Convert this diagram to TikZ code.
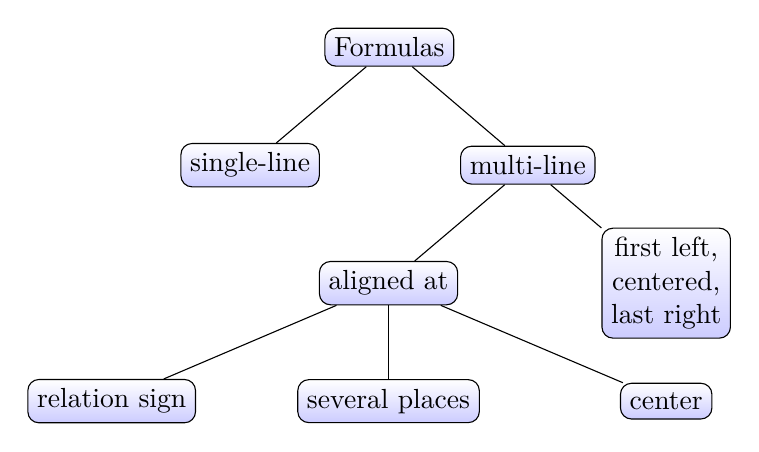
\documentclass[tikz,border=0pt]{standalone}
\usepackage{tikz}
\usetikzlibrary{positioning}
\tikzset{
  % Shaded tree node
  tnode/.style={rectangle,rounded corners=4pt,draw=black,
    top color=white,bottom color=blue!20,align=center},
  % Tree edge
  tedge/.style={black},
}
\begin{document}
\begin{tikzpicture}
  \useasboundingbox (0,0) rectangle (9.65,-5.745);
  % Root and first level
  \node[tnode] (form) at (4.95,-0.60) {Formulas};
  \node[tnode] (single) at (3.18,-2.10) {single-line};
  \node[tnode] (multi) at (6.71,-2.10) {multi-line};

  % Second level
  \node[tnode] (aligned) at (4.94,-3.60) {aligned at};
  \node[tnode] (flcr) at (8.47,-3.60) {first left,\\centered,\\last right};

  % Third level
  \node[tnode] (rel) at (1.42,-5.10) {relation sign};
  \node[tnode] (several) at (4.94,-5.10) {several places};
  \node[tnode] (cent) at (8.47,-5.10) {center};

  % Edges
  \draw[tedge] (form) -- (single);
  \draw[tedge] (form) -- (multi);
  \draw[tedge] (multi) -- (aligned);
  \draw[tedge] (multi) -- (flcr);
  \draw[tedge] (aligned) -- (rel);
  \draw[tedge] (aligned) -- (several);
  \draw[tedge] (aligned) -- (cent);
\end{tikzpicture}
\end{document}
